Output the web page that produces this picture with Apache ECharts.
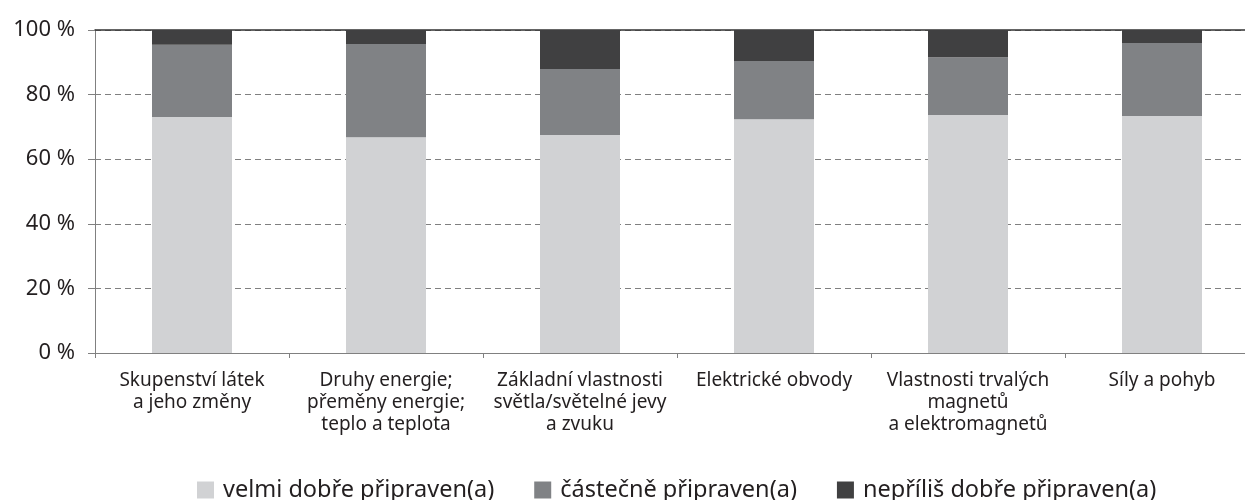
<!DOCTYPE html>
<html><head><meta charset="utf-8">
<script src="https://cdn.jsdelivr.net/npm/echarts@6/dist/echarts.min.js"></script>
<style>html,body{margin:0;padding:0;background:#fff;overflow:hidden}#c{width:1259px;height:500px}</style>
</head><body><div id="c"></div>
<script>
const categories = [
  "Skupenství látek\na jeho změny",
  "Druhy energie;\npřeměny energie;\nteplo a teplota",
  "Základní vlastnosti\nsvětla/světelné jevy\na zvuku",
  "Elektrické obvody",
  "Vlastnosti trvalých\nmagnetů\na elektromagnetů",
  "Síly a pohyb"
];
const seriesNames = ["velmi dobře připraven(a)", "částečně připraven(a)", "nepříliš dobře připraven(a)"];
const velmi = [73.1, 66.8, 67.5, 72.4, 73.7, 73.4];
const castecne = [22.3, 28.9, 20.4, 18.0, 17.9, 22.6];
const nepriliz = [4.6, 4.3, 12.1, 9.6, 8.4, 4.0];
const yTicks = [0, 20, 40, 60, 80, 100];

const colors = ["#d1d2d4", "#808285", "#404041"];
const font = "Noto Sans";
const chart = echarts.init(document.getElementById('c'));
const values = [velmi, castecne, nepriliz];
chart.setOption({
  animation: false,
  textStyle: {fontFamily: font},
  grid: {left: 95, right: 0, top: 30, bottom: 147},
  legend: {
    data: seriesNames, left: 197, top: 477, itemWidth: 17, itemHeight: 17, itemGap: 40,
    icon: 'rect', padding: 0,
    textStyle: {fontSize: 23.5, lineHeight: 26, color: '#231f20', fontFamily: font, padding: [0,0,0,4]}
  },
  xAxis: [{
    type: 'category', data: categories,
    axisLine: {lineStyle: {color: '#808080', width: 1}},
    axisTick: {show: true, length: 5, lineStyle: {color: '#808080'}},
    axisLabel: {fontSize: 19, color: '#231f20', lineHeight: 22, margin: 17, interval: 0, fontFamily: font}
  }, {
    type: 'category', data: categories, position: 'top',
    axisLine: {show: true, lineStyle: {color: '#333', width: 1.5}},
    axisTick: {show: false}, axisLabel: {show: false}
  }],
  yAxis: {
    type: 'value', min: 0, max: 100, interval: 20,
    axisLine: {show: true, lineStyle: {color: '#808080'}},
    axisTick: {show: true, length: 7, lineStyle: {color: '#808080'}},
    axisLabel: {fontSize: 22, color: '#231f20', margin: 20, fontFamily: font,
      formatter: v => yTicks.includes(v) ? v + ' %' : ''},
    splitLine: {show: true, lineStyle: {color: '#808080', type: [6, 4], width: 1}}
  },
  series: seriesNames.map((n, i) => ({
    name: n, type: 'bar', stack: 'a', data: values[i], barWidth: 80,
    itemStyle: {color: colors[i]}
  }))
});
</script></body></html>
